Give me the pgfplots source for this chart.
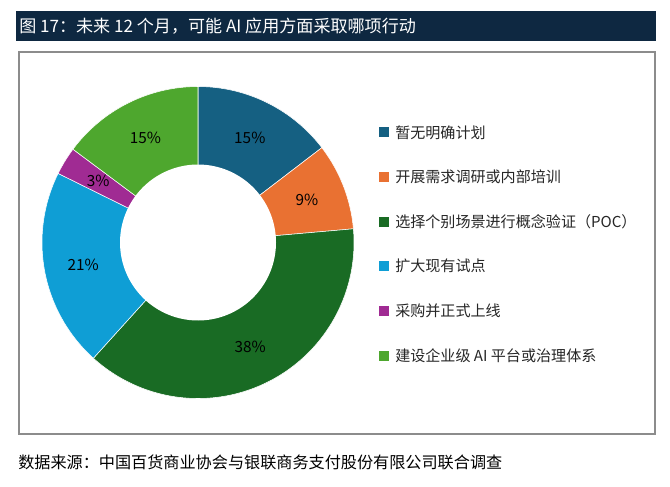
\documentclass[border=0pt]{standalone}
\usepackage{pgfplots}
\pgfplotsset{compat=1.18}
\usepackage{pgfplotstable}
\usepackage{fontspec}
\setmainfont{Noto Sans CJK SC}
\definecolor{navy}{HTML}{0E2841}
\definecolor{cA}{HTML}{156082}
\definecolor{cB}{HTML}{E97132}
\definecolor{cC}{HTML}{196B24}
\definecolor{cD}{HTML}{0F9ED5}
\definecolor{cE}{HTML}{A02B93}
\definecolor{cF}{HTML}{4EA72E}
\definecolor{boxgray}{HTML}{8C8C8C}
\definecolor{txt}{HTML}{262626}
\pgfplotstableread{
idx value label
0 14.6 15
1 9.0 9
2 38.1 38
3 20.6 21
4 2.9 3
5 14.8 15
}\data
\begin{document}
\begin{tikzpicture}
\pgfplotstablegetelem{0}{value}\of\data \let\vA\pgfplotsretval
\pgfplotstablegetelem{1}{value}\of\data \let\vB\pgfplotsretval
\pgfplotstablegetelem{2}{value}\of\data \let\vC\pgfplotsretval
\pgfplotstablegetelem{3}{value}\of\data \let\vD\pgfplotsretval
\pgfplotstablegetelem{4}{value}\of\data \let\vE\pgfplotsretval
\pgfplotstablegetelem{5}{value}\of\data \let\vF\pgfplotsretval
\pgfmathsetmacro\aA{90}
\pgfmathsetmacro\aB{\aA-3.6*\vA}
\pgfmathsetmacro\aC{\aB-3.6*\vB}
\pgfmathsetmacro\aD{\aC-3.6*\vC}
\pgfmathsetmacro\aE{\aD-3.6*\vD}
\pgfmathsetmacro\aF{\aE-3.6*\vE}
\pgfmathsetmacro\aG{\aF-3.6*\vF}
\pgfmathsetmacro\mA{(\aA+\aB)/2}
\pgfmathsetmacro\mB{(\aB+\aC)/2}
\pgfmathsetmacro\mC{(\aC+\aD)/2}
\pgfmathsetmacro\mD{(\aD+\aE)/2}
\pgfmathsetmacro\mE{(\aE+\aF)/2}
\pgfmathsetmacro\mF{(\aF+\aG)/2}
\begin{scope}[x=0.75pt,y=-0.75pt]
\path (0,0) rectangle (670,486);
\fill[navy] (16,11) rectangle (656,40.7);
\node[anchor=west,text=white,font=\fontsize{12.8pt}{14pt}\selectfont,inner sep=0pt] at (19,26.3) {图 17：未来 12 个月，可能 AI 应用方面采取哪项行动};
\draw[boxgray,line width=1.5pt] (19.2,51.7) rectangle (654.5,434.3);
\node[anchor=west,text=black,font=\fontsize{12.1pt}{14pt}\selectfont,inner sep=0pt] at (18,462) {数据来源：中国百货商业协会与银联商务支付股份有限公司联合调查};
\foreach \c/\y/\t in {cA/132.3/暂无明确计划, cB/176.7/开展需求调研或内部培训, cC/221.7/选择个别场景进行概念验证（POC）, cD/266/扩大现有试点, cE/311/采购并正式上线, cF/356/建设企业级 AI 平台或治理体系}{
  \fill[\c] (379,\y-5) rectangle (389,\y+5);
  \node[anchor=west,text=txt,font=\fontsize{11.3pt}{13pt}\selectfont,inner sep=0pt] at (395,\y) {\t};
}
\end{scope}
\begin{axis}[at={(148.5pt,-181.875pt)}, anchor=center, scale only axis,
  width=234pt, height=234pt, xmin=-156, xmax=156, ymin=-156, ymax=156,
  hide axis, clip=false]
\addplot[fill=cA, draw=white, line width=0.4pt, domain=\aB:\aA, samples=60, variable=\t] ({156*cos(\t)},{156*sin(\t)}) -- (axis cs:0,0) -- cycle;
\addplot[fill=cB, draw=white, line width=0.4pt, domain=\aC:\aB, samples=60, variable=\t] ({156*cos(\t)},{156*sin(\t)}) -- (axis cs:0,0) -- cycle;
\addplot[fill=cC, draw=white, line width=0.4pt, domain=\aD:\aC, samples=120, variable=\t] ({156*cos(\t)},{156*sin(\t)}) -- (axis cs:0,0) -- cycle;
\addplot[fill=cD, draw=white, line width=0.4pt, domain=\aE:\aD, samples=80, variable=\t] ({156*cos(\t)},{156*sin(\t)}) -- (axis cs:0,0) -- cycle;
\addplot[fill=cE, draw=white, line width=0.4pt, domain=\aF:\aE, samples=30, variable=\t] ({156*cos(\t)},{156*sin(\t)}) -- (axis cs:0,0) -- cycle;
\addplot[fill=cF, draw=white, line width=0.4pt, domain=\aG:\aF, samples=60, variable=\t] ({156*cos(\t)},{156*sin(\t)}) -- (axis cs:0,0) -- cycle;
\addplot[fill=white, draw=none, domain=0:360, samples=150, variable=\t] ({78*cos(\t)},{78*sin(\t)}) -- cycle;
\begin{scope}[every node/.style={font=\fontsize{11.5pt}{13pt}\selectfont, text=black, inner sep=0pt}]
\node at (axis cs:{117*cos(\mA)},{117*sin(\mA)}) {15\%};
\node at (axis cs:{117*cos(\mB)},{117*sin(\mB)}) {9\%};
\node at (axis cs:{117*cos(\mC)},{117*sin(\mC)}) {38\%};
\node at (axis cs:{117*cos(\mD)},{117*sin(\mD)}) {21\%};
\node at (axis cs:{117*cos(\mE)},{117*sin(\mE)}) {3\%};
\node at (axis cs:{117*cos(\mF)},{117*sin(\mF)}) {15\%};
\end{scope}
\end{axis}
\end{tikzpicture}
\end{document}
